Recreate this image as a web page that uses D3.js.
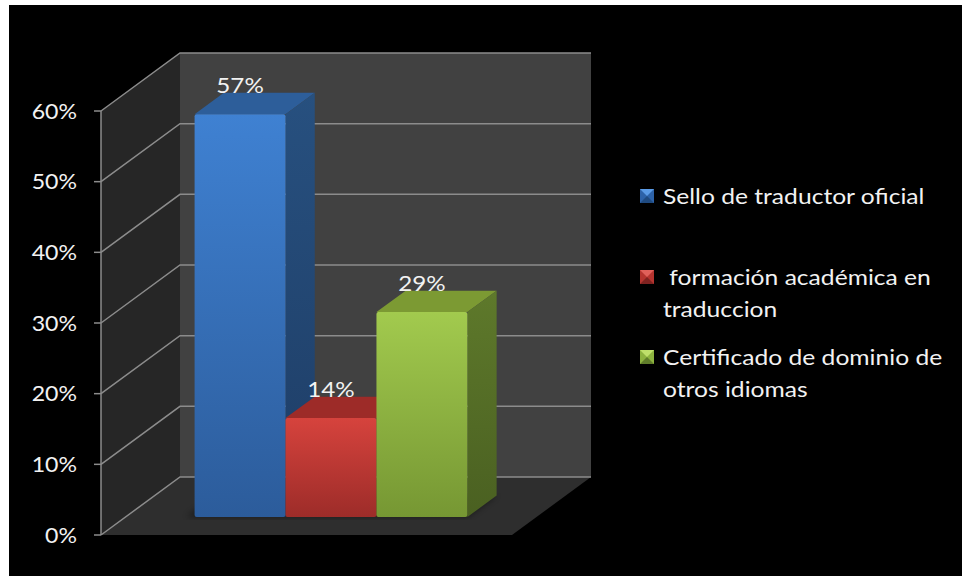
<!DOCTYPE html>
<html>
<head>
<meta charset="utf-8">
<script src="https://cdn.jsdelivr.net/npm/d3@7"></script>
<style>
  html, body { margin: 0; padding: 0; background: #ffffff; }
  svg { display: block; }
  text { font-family: Lato, "Open Sans", sans-serif; fill: #f2f2f2; }
</style>
</head>
<body>
<svg id="chart" width="962" height="576"></svg>
<script>
// Chart data
const categories = ["Sello de traductor oficial", "formación académica en traduccion", "Certificado de dominio de otros idiomas"];
const values = [57, 14, 29];
const valueLabels = ["57%", "14%", "29%"];
const legendLines = [
  ["Sello de traductor oficial"],
  [" formación académica en", "traduccion"],
  ["Certificado de dominio de", "otros idiomas"]
];
const yTicks = [0, 10, 20, 30, 40, 50, 60];
const yTickLabels = ["0%", "10%", "20%", "30%", "40%", "50%", "60%"];

// Face colours per series: front gradient (top, bottom), side, top, legend bevel
const palette = [
  { front: ["#3f81d2", "#2c5c9b"], side: ["#27507f", "#1e3d66"], top: "#2d5e9a", mark: ["#5b9be6", "#2d62a8", "#1f4a80"] },
  { front: ["#d6433d", "#9d2c29"], side: ["#8a2623", "#6e1d1b"], top: "#9d2b28", mark: ["#e0605a", "#b5342f", "#7f2220"] },
  { front: ["#a2ca4e", "#769733"], side: ["#5e792b", "#4a6021"], top: "#7c9a33", mark: ["#bfe06a", "#8db33f", "#607d2a"] }
];

const svg = d3.select("#chart");

// Text helper: slightly widened glyphs
function label(parent, tx, ty, str, size, anchor, stretch) {
  return parent.append("text")
    .attr("transform", `translate(${tx},${ty}) scale(${stretch},1)`)
    .attr("text-anchor", anchor).attr("font-size", size)
    .attr("xml:space", "preserve").style("white-space", "pre")
    .text(str);
}

// Black chart area
svg.append("rect").attr("x", 9).attr("y", 5).attr("width", 953).attr("height", 571).attr("fill", "#000");

// Oblique 3D projection: depth d in [0,1] shifts right and up
const depthX = 79, depthY = 58;
const y = d3.scaleLinear().domain([0, 60]).range([535, 111]);
const x = d3.scaleBand().domain(categories).range([101, 512]).paddingInner(0).paddingOuter(0.76);
const P = (px, v, d) => [px + d * depthX, y(v) - d * depthY];
const poly = pts => "M" + pts.map(p => p.join(",")).join("L") + "Z";

const x0 = x.range()[0], x1 = x.range()[1];
const vMax = y.domain()[1];

// Walls and floor
svg.append("path").attr("d", poly([P(x0, 0, 1), P(x1, 0, 1), P(x1, vMax, 1), P(x0, vMax, 1)])).attr("fill", "#414141");
svg.append("path").attr("d", poly([P(x0, 0, 0), P(x0, 0, 1), P(x0, vMax, 1), P(x0, vMax, 0)])).attr("fill", "#262626");
svg.append("path").attr("d", poly([P(x0, 0, 0), P(x1, 0, 0), P(x1, 0, 1), P(x0, 0, 1)])).attr("fill", "#2e2e2e");

// Gridlines on back wall and side wall
const grid = svg.append("g").attr("stroke", "#8c8c8c").attr("stroke-width", 1.5).attr("fill", "none");
yTicks.forEach(t => {
  grid.append("path").attr("d", "M" + P(x0, t, 0) + "L" + P(x0, t, 1) + "L" + P(x1, t, 1));
});

// Value axis line and ticks
const axisG = svg.append("g").attr("stroke", "#8c8c8c").attr("stroke-width", 1.5).attr("fill", "none");
axisG.append("path").attr("d", "M" + [x0, y(0)] + "L" + [x0, y(vMax)]);
yTicks.forEach(t => axisG.append("path").attr("d", "M" + [x0 - 7, y(t)] + "L" + [x0, y(t)]));

const yLab = svg.append("g");
yTicks.forEach((t, i) => label(yLab, 77, y(t) + 7.5, yTickLabels[i], 21, "end", 1.1));

// Gradients
const defs = svg.append("defs");
palette.forEach((c, i) => {
  const gF = defs.append("linearGradient").attr("id", "front" + i).attr("x1", 0).attr("y1", 0).attr("x2", 0).attr("y2", 1);
  gF.append("stop").attr("offset", 0).attr("stop-color", c.front[0]);
  gF.append("stop").attr("offset", 1).attr("stop-color", c.front[1]);
  const gS = defs.append("linearGradient").attr("id", "side" + i).attr("x1", 0).attr("y1", 0).attr("x2", 0).attr("y2", 1);
  gS.append("stop").attr("offset", 0).attr("stop-color", c.side[0]);
  gS.append("stop").attr("offset", 1).attr("stop-color", c.side[1]);
});
defs.append("filter").attr("id", "soft").append("feGaussianBlur").attr("stdDeviation", 3);

// Bars
const dF = 0.31, dB = 0.68;
const bars = svg.append("g");
// Soft shadow on the floor behind the bars
bars.append("path")
  .attr("d", poly([P(x(categories[0]) - 8, 0, dF), P(x(categories[2]) + x.bandwidth(), 0, dF), P(x(categories[2]) + x.bandwidth(), 0, dB), P(x(categories[0]) - 8, 0, dB)]))
  .attr("fill", "#000").attr("opacity", 0.45).attr("filter", "url(#soft)");

categories.forEach((cat, i) => {
  const bx0 = x(cat), bx1 = bx0 + x.bandwidth(), v = values[i];
  const g = bars.append("g");
  g.append("path").attr("d", poly([P(bx0, v, dF), P(bx1, v, dF), P(bx1, v, dB), P(bx0, v, dB)])).attr("fill", palette[i].top);
  g.append("path").attr("d", poly([P(bx1, 0, dF), P(bx1, 0, dB), P(bx1, v, dB), P(bx1, v, dF)])).attr("fill", `url(#side${i})`);
  const f0 = P(bx0, v, dF), f1 = P(bx1, 0, dF);
  g.append("rect").attr("x", f0[0]).attr("y", f0[1]).attr("width", f1[0] - f0[0]).attr("height", f1[1] - f0[1])
    .attr("rx", 2).attr("fill", `url(#front${i})`);
  label(g, (f0[0] + f1[0]) / 2, f0[1] - 21, valueLabels[i], 22, "middle", 1.1);
});

// Legend
const legendX = 640, legendTextX = 663, markSize = 14;
const legendBase = [204, 285, 365];
const lineH = 31.5;
legendLines.forEach((lines, i) => {
  const g = svg.append("g");
  const by = legendBase[i];
  const mx = legendX, my = by - 1 - markSize, m = palette[i].mark;
  const cx = mx + markSize / 2, cy = my + markSize / 2;
  g.append("rect").attr("x", mx).attr("y", my).attr("width", markSize).attr("height", markSize).attr("fill", m[1]);
  g.append("path").attr("d", poly([[mx, my], [mx + markSize, my], [cx, cy]])).attr("fill", m[0]);
  g.append("path").attr("d", poly([[mx, my + markSize], [mx + markSize, my + markSize], [cx, cy]])).attr("fill", m[2]);
  lines.forEach((ln, j) => label(g, legendTextX, by + j * lineH, ln, 22, "start", 1.12));
});
</script>
</body>
</html>
